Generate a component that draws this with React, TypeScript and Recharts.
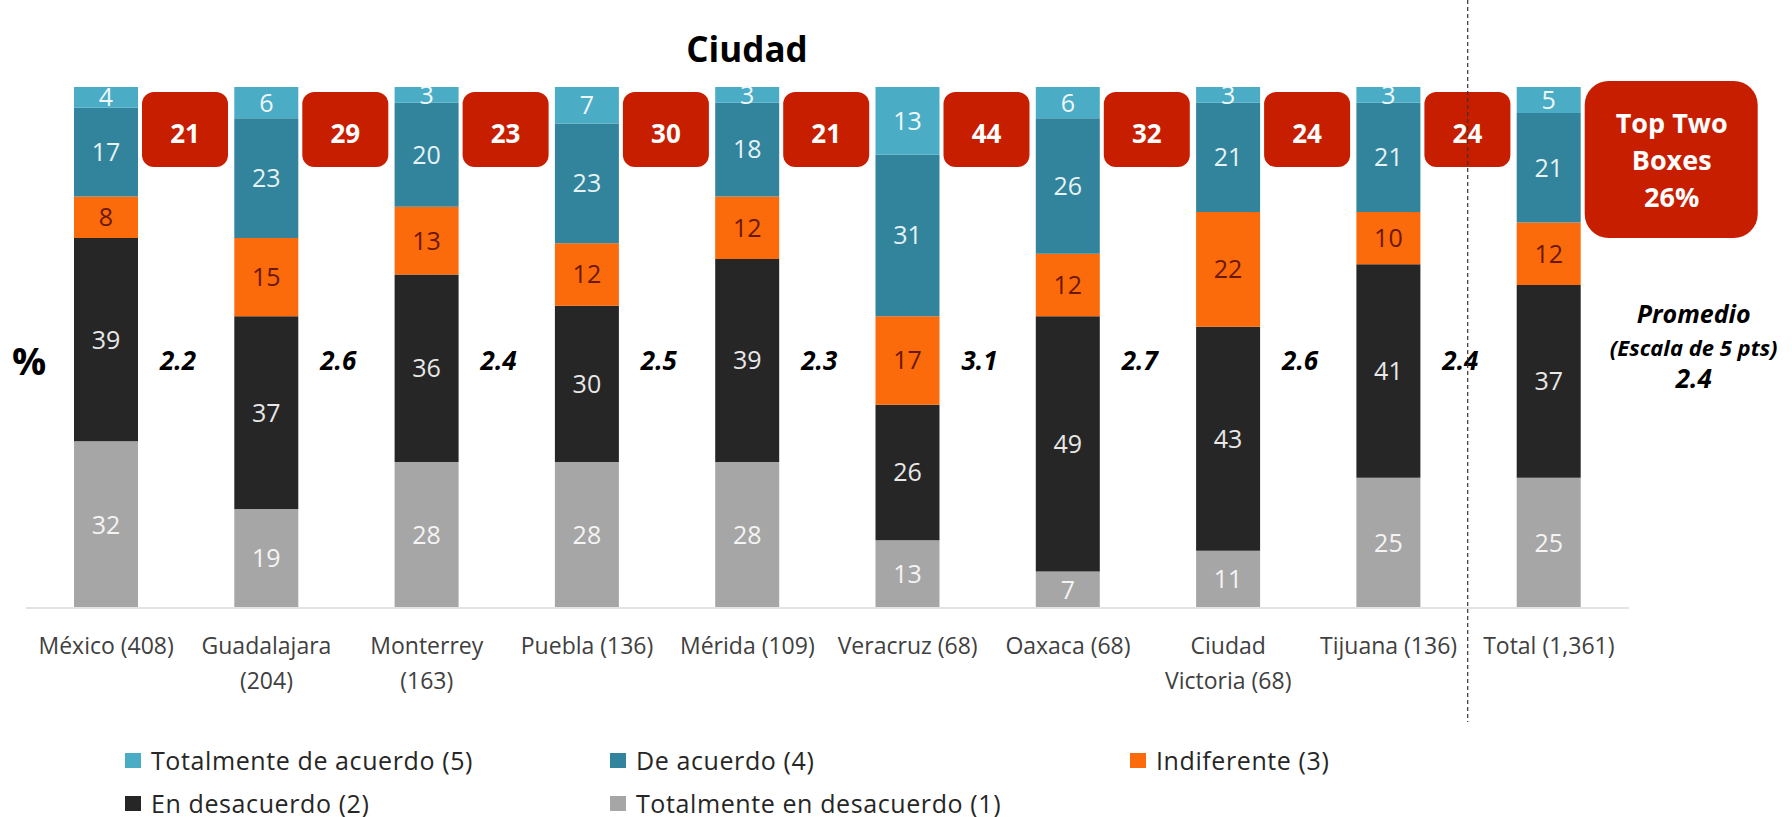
import { BarChart, Bar, XAxis, YAxis, LabelList, Legend } from "recharts"

// categories (with sample size), "\n" breaks the tick label in two lines
const cities = [
  "México (408)",
  "Guadalajara\n(204)",
  "Monterrey\n(163)",
  "Puebla (136)",
  "Mérida (109)",
  "Veracruz (68)",
  "Oaxaca (68)",
  "Ciudad\nVictoria (68)",
  "Tijuana (136)",
  "Total (1,361)",
]

// % per answer, bottom to top of each bar
const totDesacuerdo = [32, 19, 28, 28, 28, 13, 7, 11, 25, 25]
const enDesacuerdo = [39, 37, 36, 30, 39, 26, 49, 43, 41, 37]
const indiferente = [8, 15, 13, 12, 12, 17, 12, 22, 10, 12]
const deAcuerdo = [17, 23, 20, 23, 18, 31, 26, 21, 21, 21]
const totDeAcuerdo = [4, 6, 3, 7, 3, 13, 6, 3, 3, 5]

// top two boxes and average (5 pt scale)
const topTwo = [21, 29, 23, 30, 21, 44, 32, 24, 24, 26]
const promedio = ["2.2", "2.6", "2.4", "2.5", "2.3", "3.1", "2.7", "2.6", "2.4", "2.4"]

const data = cities.map((c, i) => ({
  city: c,
  t1: totDesacuerdo[i],
  t2: enDesacuerdo[i],
  t3: indiferente[i],
  t4: deAcuerdo[i],
  t5: totDeAcuerdo[i],
  top: topTwo[i],
  avg: promedio[i],
}))

const FONT = "'Open Sans', sans-serif"
const RED = "#c81e00"

const series = [
  { key: "t1", name: "Totalmente en desacuerdo (1)", color: "#a6a6a6", text: "#f4f4f4" },
  { key: "t2", name: "En desacuerdo (2)", color: "#262626", text: "#e8e8e8" },
  { key: "t3", name: "Indiferente (3)", color: "#fb6a0b", text: "#6a1800" },
  { key: "t4", name: "De acuerdo (4)", color: "#31849b", text: "#e6f2f5" },
  { key: "t5", name: "Totalmente de acuerdo (5)", color: "#4bacc6", text: "#eef8fb" },
]

const legendOrder = ["t5", "t4", "t3", "t2", "t1"]

function CityTick(props: any) {
  const { x, y, payload } = props
  const lines = String(payload.value).split("\n")
  return (
    <text x={x} y={y} textAnchor="middle" fill="#404040" fontFamily={FONT} fontSize={23}>
      {lines.map((l: string, i: number) => (
        <tspan key={i} x={x} dy={i === 0 ? 38 : 35}>
          {l}
        </tspan>
      ))}
    </text>
  )
}

function Annotation(props: any) {
  const { x, y, width, index } = props
  const row = data[index]
  const left = x + width + 4
  const white = { fill: "#fff", fontFamily: FONT, fontWeight: 700 }
  const black = { fill: "#000", fontFamily: FONT, fontWeight: 700, fontStyle: "italic" }
  if (index === data.length - 1) {
    const cx = left + 87
    return (
      <g>
        <rect x={left} y={y - 6} width={173} height={157} rx={24} fill={RED} />
        <text x={cx} y={y + 46} textAnchor="middle" fontSize={27} {...white}>
          Top Two
        </text>
        <text x={cx} y={y + 83} textAnchor="middle" fontSize={27} {...white}>
          Boxes
        </text>
        <text x={cx} y={y + 120} textAnchor="middle" fontSize={27} {...white}>
          {row.top}%
        </text>
        <text x={cx + 22} y={y + 236} textAnchor="middle" fontSize={25} {...black}>
          Promedio
        </text>
        <text x={cx + 22} y={y + 269} textAnchor="middle" fontSize={22} {...black}>
          (Escala de 5 pts)
        </text>
        <text x={cx + 22} y={y + 301} textAnchor="middle" fontSize={26} {...black}>
          {row.avg}
        </text>
        <line
          x1={x + width / 2 - 81}
          x2={x + width / 2 - 81}
          y1={y - 87}
          y2={y + 635}
          stroke="#333"
          strokeWidth={1.2}
          strokeDasharray="4 3"
        />
      </g>
    )
  }
  return (
    <g>
      <rect x={left} y={y + 5} width={86} height={75} rx={12} fill={RED} />
      <text x={left + 43} y={y + 56} textAnchor="middle" fontSize={26} {...white}>
        {row.top}
      </text>
      <text x={left + 36} y={y + 283} textAnchor="middle" fontSize={26} {...black}>
        {row.avg}
      </text>
    </g>
  )
}

function LegendBox() {
  const cols = [125, 610, 1130]
  return (
    <div style={{ position: "relative", width: 1792, height: 80 }}>
      {legendOrder.map((k, i) => {
        const s = series.find((d) => d.key === k)!
        return (
          <div
            key={k}
            style={{
              position: "absolute",
              left: cols[i % 3],
              top: i < 3 ? 0 : 43,
              display: "flex",
              alignItems: "center",
              fontFamily: FONT,
              fontSize: 25,
              letterSpacing: 0.6,
              color: "#262626",
              whiteSpace: "nowrap",
              lineHeight: "34px",
            }}
          >
            <span style={{ width: 16, height: 15, background: s.color, marginRight: 10, display: "inline-block" }} />
            {s.name}
          </div>
        )
      })}
    </div>
  )
}

export default function App() {
  return (
    <div style={{ position: "absolute", left: 0, top: 0, width: 1792, height: 817, background: "#fff" }}>
      <BarChart
        width={1792}
        height={817}
        data={data}
        margin={{ top: 87, right: 163, bottom: 149, left: 26 }}
        barCategoryGap={0}
      >
        <text x={747} y={62} textAnchor="middle" fontFamily={FONT} fontWeight={700} fontSize={35} fill="#000">
          Ciudad
        </text>
        <text x={29} y={375} textAnchor="middle" fontFamily={FONT} fontWeight={700} fontSize={38} fill="#000">
          %
        </text>
        <XAxis
          dataKey="city"
          height={60}
          interval={0}
          tickLine={false}
          axisLine={{ stroke: "#e3e3e3", strokeWidth: 2 }}
          tick={<CityTick />}
        />
        <YAxis hide domain={[0, 100]} />
        {series.map((s) => (
          <Bar
            key={s.key}
            dataKey={s.key}
            name={s.name}
            stackId="a"
            fill={s.color}
            barSize={64}
            isAnimationActive={false}
          >
            <LabelList dataKey={s.key} position="center" fill={s.text} fontFamily={FONT} fontSize={25} />
            {s.key === "t5" && <LabelList dataKey="top" content={<Annotation />} />}
          </Bar>
        ))}
        <Legend
          layout="horizontal"
          verticalAlign="middle"
          align="center"
          wrapperStyle={{ top: 743, left: 0, width: 1792 }}
          content={() => <LegendBox />}
        />
      </BarChart>
    </div>
  )
}
